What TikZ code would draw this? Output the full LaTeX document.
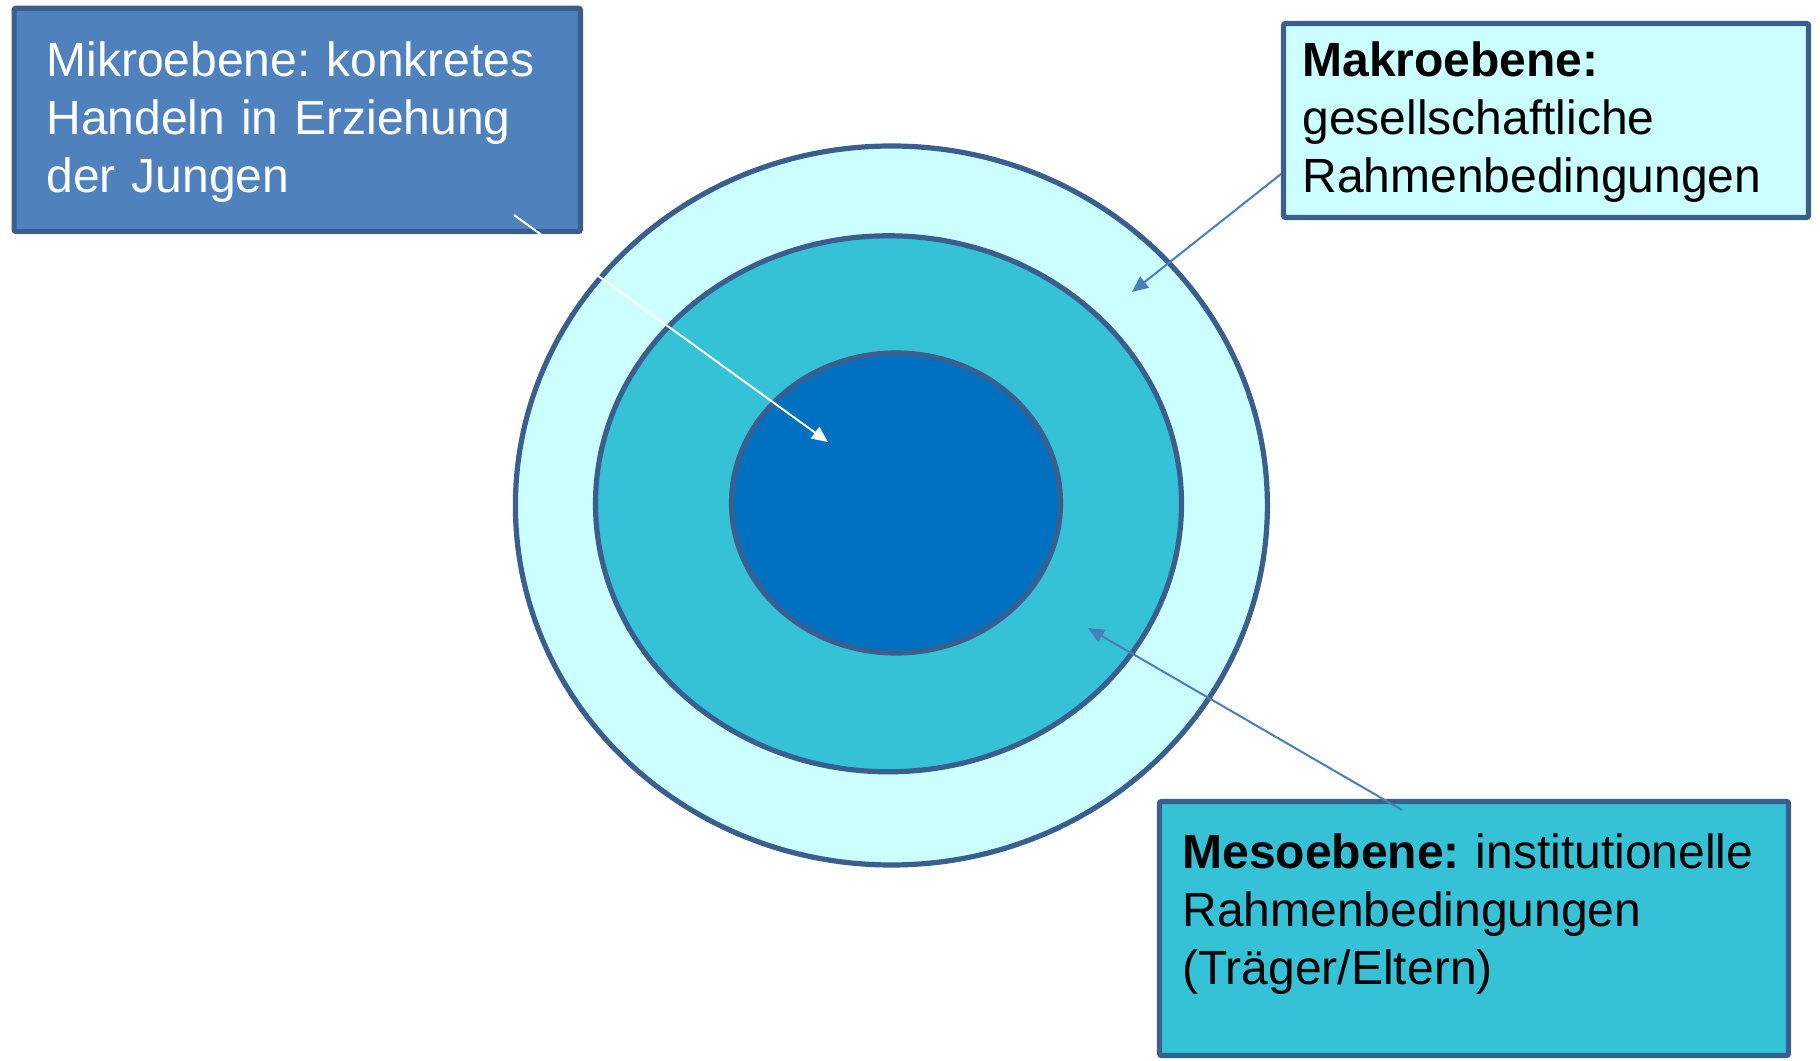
\documentclass[tikz,border=0pt]{standalone}
\usepackage{fontspec}
\setmainfont{Liberation Sans}
\usepackage{tikz}
\usetikzlibrary{arrows.meta,shapes.geometric,positioning}
\definecolor{rimblue}{HTML}{3A5F8E}
\definecolor{palecyan}{HTML}{CCFFFF}
\definecolor{mesoteal}{HTML}{35C2D6}
\definecolor{coreblue}{HTML}{0070C0}
\definecolor{mikroblue}{HTML}{4F81BD}
\definecolor{lineblue}{HTML}{4A7EBB}
\frenchspacing

\begin{document}
\begin{tikzpicture}[x=0.5pt,y=0.5pt,
  ring/.style={ellipse,draw=rimblue,line width=2.6pt,inner sep=0pt},
  panel/.style={rectangle,draw=rimblue,line width=2.6pt,rounded corners=1pt,inner sep=0pt},
  txt/.style={anchor=base west,inner sep=0pt,text width=#1,align=left,font=\fontsize{24}{29}\selectfont},
  pointer/.style={-{Triangle[length=8pt,width=7pt]},line width=1pt}]
  \useasboundingbox (0,0) rectangle (1820,1060);
  \node[ring,fill=palecyan,minimum width=376pt,minimum height=359.5pt] (ring_out) at (891.4,554.5) {};
  \node[ring,fill=mesoteal,minimum width=293pt,minimum height=268pt] (ring_mid) at (888.5,556.2) {};
  \node[ring,fill=coreblue,minimum width=164.5pt,minimum height=150pt] (ring_in) at (896,557) {};
  \node[panel,fill=mikroblue,minimum width=283.2pt,minimum height=111.6pt] (box_mikro) at (297.3,940.1) {};
  \node[panel,fill=palecyan,minimum width=262.5pt,minimum height=97pt] (box_makro) at (1546,939.5) {};
  \node[panel,fill=mesoteal,minimum width=314.5pt,minimum height=127pt] (box_meso) at (1474,131.5) {};
  \node[txt=260pt,text=white] (txt_mikro) at (46,983) {Mikroebene: konkretes\\Handeln in Erziehung\\der Jungen};
  \node[txt=250pt] (txt_makro) at (1302,983) {\textbf{Makroebene:}\\gesellschaftliche\\Rahmenbedingungen};
  \node[txt=300pt] (txt_meso) at (1182,191) {\textbf{Mesoebene:} institutionelle\\Rahmenbedingungen\\(Träger/Eltern)};
  \coordinate (mikro_from) at (514,845);
  \coordinate (mikro_to) at (828,618);
  \coordinate (makro_from) at (1281,886);
  \coordinate (makro_to) at (1132,768);
  \coordinate (meso_from) at (1402,250);
  \coordinate (meso_to) at (1088,432);
  \draw[pointer,white] (mikro_from) -- (mikro_to);
  \draw[pointer,lineblue] (makro_from) -- (makro_to);
  \draw[pointer,lineblue] (meso_from) -- (meso_to);
\end{tikzpicture}
\end{document}
